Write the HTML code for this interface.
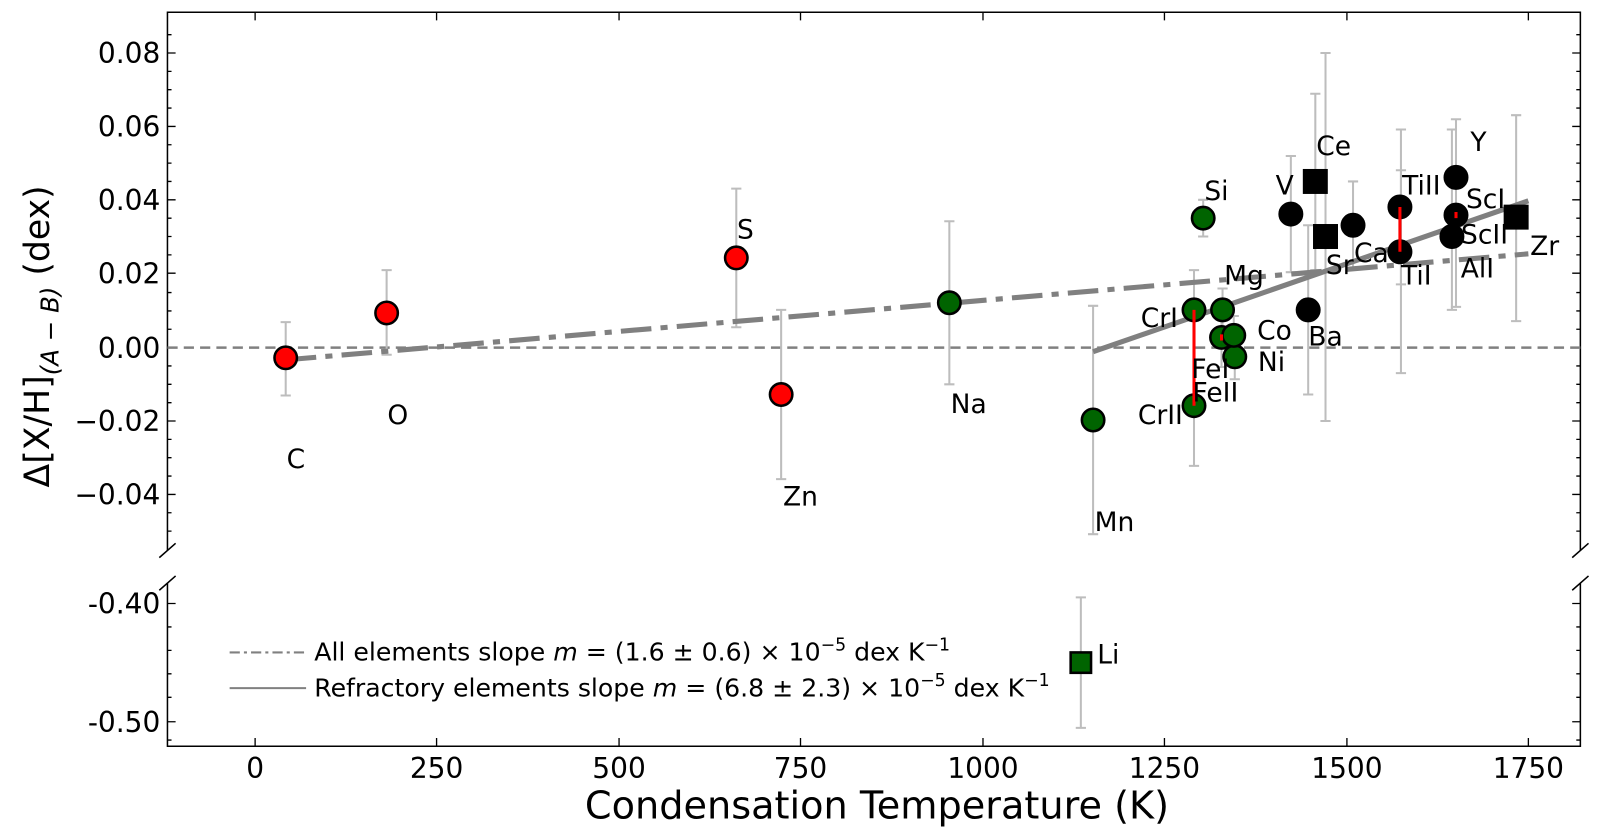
<!DOCTYPE html>
<html><head><meta charset="utf-8"><style>
html,body{margin:0;padding:0;background:#fff;width:1600px;height:840px;overflow:hidden}
svg text{font-family:"DejaVu Sans","Liberation Sans",sans-serif;fill:#000}
</style></head><body>
<svg width="1600" height="840" viewBox="0 0 1569 824" xmlns="http://www.w3.org/2000/svg">
<g stroke="#000" stroke-width="1.5" fill="none">
<path d="M164 540 V12 H1550 V540"/>
<path d="M164 572 V732 H1550 V572"/>
<path d="M156 547 L172 533 M1542 547 L1558 533 M156 579 L172 565 M1542 579 L1558 565"/>
</g>
<g stroke="#000" stroke-width="1.3">
<path d="M164 52h8M164 124h8M164 196h8M164 268h8M164 341h8M164 413h8M164 485h8M1550 52h-8M1550 124h-8M1550 196h-8M1550 268h-8M1550 341h-8M1550 413h-8M1550 485h-8"/>
<path d="M164 34h4M164 70h4M164 88h4M164 106h4M164 142h4M164 160h4M164 178h4M164 214h4M164 232h4M164 250h4M164 287h4M164 305h4M164 323h4M164 359h4M164 377h4M164 395h4M164 431h4M164 449h4M164 467h4M164 503h4M164 521h4M1550 34h-4M1550 70h-4M1550 88h-4M1550 106h-4M1550 142h-4M1550 160h-4M1550 178h-4M1550 214h-4M1550 232h-4M1550 250h-4M1550 287h-4M1550 305h-4M1550 323h-4M1550 359h-4M1550 377h-4M1550 395h-4M1550 431h-4M1550 449h-4M1550 467h-4M1550 503h-4M1550 521h-4"/>
<path d="M164 592h8M164 708h8M1550 592h-8M1550 708h-8M164 615h4M164 638h4M164 661h4M164 684h4M164 726h4M1550 615h-4M1550 638h-4M1550 661h-4M1550 684h-4M1550 726h-4"/>
<path d="M250 732v-8M428 732v-8M607 732v-8M785 732v-8M964 732v-8M1142 732v-8M1321 732v-8M1499 732v-8M250 12v8M428 12v8M607 12v8M785 12v8M964 12v8M1142 12v8M1321 12v8M1499 12v8"/>
</g>
<g font-size="27.5" text-anchor="end">
<text x="157" y="62">0.08</text><text x="157" y="134">0.06</text><text x="157" y="206">0.04</text><text x="157" y="278">0.02</text><text x="157" y="351">0.00</text><text x="157" y="423">−0.02</text><text x="157" y="495">−0.04</text>
<text x="157" y="602">-0.40</text><text x="157" y="718">-0.50</text>
</g>
<g font-size="27.5" text-anchor="middle">
<text x="250" y="763">0</text><text x="428" y="763">250</text><text x="607" y="763">500</text><text x="785" y="763">750</text><text x="964" y="763">1000</text><text x="1142" y="763">1250</text><text x="1321" y="763">1500</text><text x="1499" y="763">1750</text>
</g>
<text x="860" y="803" font-size="37.5" text-anchor="middle">Condensation Temperature (K)</text>
<text transform="translate(48,330) rotate(-90)" font-size="34" text-anchor="middle">Δ[X/H]<tspan font-size="24" dy="9" font-style="italic">(A − B)</tspan><tspan dy="-9"> (dex)</tspan></text>
<line x1="164" y1="341" x2="1550" y2="341" stroke="#808080" stroke-width="2.5" stroke-dasharray="10,6"/>
<g stroke="#bdbdbd" stroke-width="2" fill="none">
<path d="M280 316V388M275 316h10M275 388h10"/>
<path d="M379 265V348M374 265h10M374 348h10"/>
<path d="M722 185V321M717 185h10M717 321h10"/>
<path d="M766 304V470M761 304h10M761 470h10"/>
<path d="M931 217V377M926 217h10M926 377h10"/>
<path d="M1072 300V524M1067 300h10M1067 524h10"/>
<path d="M1171 265V457M1166 265h10M1166 457h10"/>
<path d="M1180 196V232M1175 196h10M1175 232h10"/>
<path d="M1199 283V326M1194 283h10M1194 326h10"/>
<path d="M1198 300V360M1193 300h10M1193 360h10"/>
<path d="M1210 310V352M1205 310h10"/>
<path d="M1211 330V372M1206 372h10"/>
<path d="M1266 153V267M1261 153h10M1261 267h10"/>
<path d="M1283 221V387M1278 221h10M1278 387h10"/>
<path d="M1290 92V265M1285 92h10M1285 265h10"/>
<path d="M1300 52V413M1295 52h10M1295 413h10"/>
<path d="M1327 178V264M1322 178h10M1322 264h10"/>
<path d="M1374 127V279M1369 127h10M1369 279h10"/>
<path d="M1374 167V366M1369 167h10M1369 366h10"/>
<path d="M1428 117V301M1423 117h10M1423 301h10"/>
<path d="M1424 127V304M1419 127h10M1419 304h10"/>
<path d="M1487 113V315M1482 113h10M1482 315h10"/>
<path d="M1060 586V714M1055 586h10M1055 714h10"/>
</g>
<line x1="280" y1="353" x2="1499" y2="249" stroke="#808080" stroke-width="5" stroke-dasharray="30,9,7,9"/>
<line x1="1072" y1="345" x2="1499" y2="197" stroke="#808080" stroke-width="5"/>
<g stroke="#000" stroke-width="2.5">
<g fill="#ff0000"><circle cx="280" cy="351" r="11"/><circle cx="379" cy="307" r="11"/><circle cx="722" cy="253" r="11"/><circle cx="766" cy="387" r="11"/></g>
<g fill="#006400"><circle cx="931" cy="297" r="11"/><circle cx="1072" cy="412" r="11"/><circle cx="1171" cy="398" r="11"/><circle cx="1171" cy="304" r="11"/><circle cx="1180" cy="214" r="11"/><circle cx="1199" cy="304" r="11"/><circle cx="1198" cy="331" r="11"/><circle cx="1211" cy="350" r="11"/><circle cx="1210" cy="329" r="11"/></g>
<g fill="#000"><circle cx="1266" cy="210" r="11"/><circle cx="1283" cy="304" r="11"/><circle cx="1327" cy="221" r="11"/><circle cx="1373" cy="203" r="11"/><circle cx="1373" cy="247" r="11"/><circle cx="1428" cy="174" r="11"/><circle cx="1424" cy="232" r="11"/><circle cx="1428" cy="211" r="11"/>
<rect x="1279" y="167" width="22" height="22"/><rect x="1289" y="221" width="22" height="22"/><rect x="1476" y="202" width="22" height="22"/></g>
<rect x="1050" y="640" width="20" height="20" fill="#006400"/>
</g>
<g stroke="#ff0000" stroke-width="3"><path d="M1171 304V398M1373 203V247M1198 328V334M1428 208V214"/></g>
<g font-size="26" text-anchor="middle">
<text x="290" y="459">C</text><text x="390" y="416">O</text><text x="731" y="234">S</text><text x="785" y="496">Zn</text><text x="950" y="405">Na</text><text x="1093" y="521">Mn</text><text x="1137" y="321">CrI</text><text x="1138" y="416">CrII</text><text x="1187" y="371">FeI</text><text x="1192" y="394">FeII</text><text x="1193" y="196">Si</text><text x="1220" y="279">Mg</text><text x="1250" y="333">Co</text><text x="1247" y="364">Ni</text><text x="1260" y="191">V</text><text x="1308" y="152">Ce</text><text x="1314" y="269">Sr</text><text x="1345" y="257">Ca</text><text x="1300" y="339">Ba</text><text x="1394" y="191">TiII</text><text x="1389" y="279">TiI</text><text x="1450" y="148">Y</text><text x="1457" y="204">ScI</text><text x="1456" y="239">ScII</text><text x="1449" y="272">AlI</text><text x="1515" y="250">Zr</text>
<text x="1087" y="651">Li</text>
</g>
<line x1="225" y1="640" x2="300" y2="640" stroke="#808080" stroke-width="2" stroke-dasharray="10,4,3,4"/>
<line x1="225" y1="675" x2="300" y2="675" stroke="#808080" stroke-width="2"/>
<g font-size="24.7">
<text x="308" y="648">All elements slope <tspan font-style="italic">m</tspan> = (1.6 ± 0.6) × 10<tspan font-size="17" dy="-10">−5</tspan><tspan dy="10"> dex K</tspan><tspan font-size="17" dy="-10">−1</tspan></text>
<text x="308" y="683">Refractory elements slope <tspan font-style="italic">m</tspan> = (6.8 ± 2.3) × 10<tspan font-size="17" dy="-10">−5</tspan><tspan dy="10"> dex K</tspan><tspan font-size="17" dy="-10">−1</tspan></text>
</g>
</svg>
</body></html>
